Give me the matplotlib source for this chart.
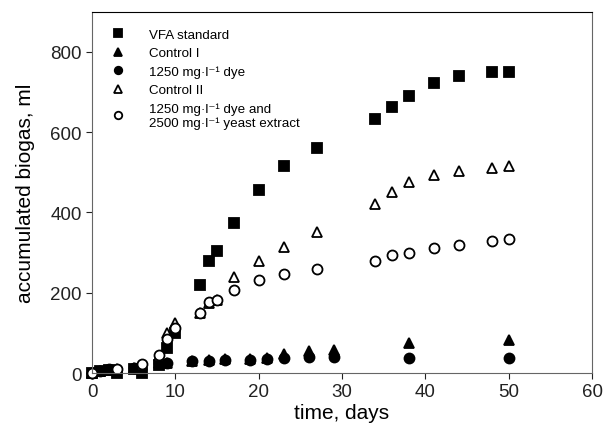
import matplotlib
matplotlib.use("Agg")
import matplotlib.pyplot as plt

plt.rcParams['font.family'] = ['Liberation Sans', 'DejaVu Sans']

# --- data ---
vfa_days = [0, 1, 2, 3, 5, 6, 8, 9, 10, 13, 14, 15, 17, 20, 23, 27, 34, 36, 38, 41, 44, 48, 50]
vfa_vals = [0, 5, 8, 0, 10, 0, 20, 62, 100, 218, 278, 305, 374, 455, 515, 560, 633, 663, 691, 722, 741, 749, 751]

ctrl1_days = [0, 1, 2, 5, 8, 9, 12, 14, 16, 19, 21, 23, 26, 29, 38, 50]
ctrl1_vals = [0, 5, 8, 12, 25, 25, 30, 33, 35, 36, 38, 48, 54, 58, 75, 83]

dye_days = [0, 1, 2, 5, 8, 9, 12, 14, 16, 19, 21, 23, 26, 29, 38, 50]
dye_vals = [0, 6, 9, 13, 25, 25, 29, 31, 33, 33, 35, 37, 39, 39, 37, 37]

ctrl2_days = [0, 3, 6, 8, 9, 10, 13, 14, 15, 17, 20, 23, 27, 34, 36, 38, 41, 44, 48, 50]
ctrl2_vals = [0, 10, 20, 42, 100, 125, 150, 175, 182, 238, 280, 315, 350, 422, 452, 475, 494, 502, 511, 516]

yeast_days = [0, 3, 6, 8, 9, 10, 13, 14, 15, 17, 20, 23, 27, 34, 36, 38, 41, 44, 48, 50]
yeast_vals = [0, 11, 23, 46, 85, 112, 149, 176, 183, 208, 231, 247, 259, 280, 295, 300, 311, 320, 328, 334]

labels = ['VFA standard', 'Control I', '1250 mg·l\u207b\u00b9 dye', 'Control II',
          '1250 mg·l\u207b\u00b9 dye and\n2500 mg·l\u207b\u00b9 yeast extract']

fig = plt.figure(figsize=(6.07, 4.27), dpi=100)
ax = fig.add_axes([0.1516, 0.1241, 0.8237, 0.8462])

kw = dict(linestyle='none', clip_on=False, markeredgewidth=1.3, color='black')
ax.plot(vfa_days, vfa_vals, marker='s', markersize=7, label=labels[0], **kw)
ax.plot(ctrl1_days, ctrl1_vals, marker='^', markersize=7.5, label=labels[1], **kw)
ax.plot(dye_days, dye_vals, marker='o', markersize=7.2, label=labels[2], **kw)
ax.plot(ctrl2_days, ctrl2_vals, marker='^', markerfacecolor='white', markersize=7.5, label=labels[3], **kw)
ax.plot(yeast_days, yeast_vals, marker='o', markerfacecolor='white', markersize=7.2, label=labels[4], **kw)

ax.set_xlim(0, 60)
ax.set_ylim(0, 900)
ax.set_xticks([0, 10, 20, 30, 40, 50, 60])
ax.set_yticks([0, 200, 400, 600, 800])
ax.tick_params(direction='out', length=4, labelsize=13.5, colors='#222222', top=False, right=False)
for side in ['left', 'bottom', 'right']:
    ax.spines[side].set_color('#666666')
ax.spines['top'].set_color('black')

ax.set_xlabel('time, days', fontsize=15, labelpad=2)
ax.set_ylabel('accumulated biogas, ml', fontsize=15)
ax.yaxis.set_label_coords(-0.115, 0.5)

ax.legend(loc='upper left', bbox_to_anchor=(0.01, 0.975), frameon=False, numpoints=1,
          fontsize=9.6, markerscale=0.75, handlelength=2.0, handletextpad=1.3,
          labelspacing=0.45, borderaxespad=0.2)

fig.savefig('out.png', dpi=100)
